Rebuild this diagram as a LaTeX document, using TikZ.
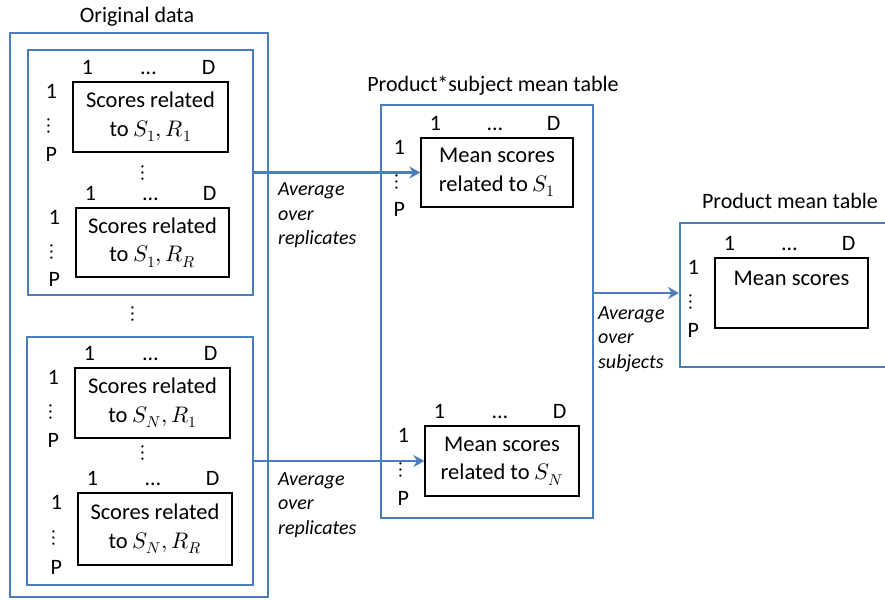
\documentclass[tikz,border=0pt]{standalone}
\usepackage{fontspec}
\usepackage{unicode-math}
\setmainfont{Carlito}
\usetikzlibrary{positioning,arrows.meta,calc}
\definecolor{frameblue}{RGB}{74,126,187}

% column labels above and row labels left of a table
\newcommand{\tabaxes}[1]{%
  \node[axisLbl, anchor=base] (#1-c1) at ($(#1.north west)+(15,-7)$) {1};
  \node[axisLbl, anchor=base] (#1-cdots) at ($(#1.north)+(-2,-7)$) {\ldots};
  \node[axisLbl, anchor=base] (#1-cD) at ($(#1.north east)+(-20,-7)$) {D};
  \node[axisLbl, anchor=base] (#1-r1) at ($(#1.north west)+(-21,17)$) {1};
  \node[dotLbl] (#1-rdots) at ($(#1.west)+(-23,9)$) {$\vdots$};
  \node[axisLbl, anchor=base] (#1-rP) at ($(#1.south west)+(-21,9)$) {P};
}

\begin{document}
\begin{tikzpicture}[x=1pt, y=-1pt,
    frame/.style={draw=frameblue, line width=2pt, inner sep=0pt},
    tabBox/.style={draw=black, line width=1.3pt, inner sep=0pt, align=center, font=\fontsize{22.5}{28.5}\selectfont},
    axisLbl/.style={inner sep=0pt, font=\fontsize{22}{26}\selectfont},
    dotLbl/.style={inner sep=0pt, font=\fontsize{22}{22}\selectfont\boldmath},
    titleText/.style={inner sep=0pt, font=\fontsize{22}{26}\selectfont},
    noteText/.style={inner sep=0pt, align=left, font=\fontsize{20}{24.5}\selectfont\itshape},
    arrow/.style={-{Stealth[length=11pt,width=12pt]}, line width=2.2pt, draw=frameblue}
]
\useasboundingbox (0,0) rectangle (885,600);

% original data
\node[frame, minimum width=258, minimum height=564] (orig) at (139,315) {};
\node[titleText, above=6pt of orig, xshift=-2pt] (origTitle) {Original data};
\node[frame, minimum width=225, minimum height=245] (grpA) at (140.5,172.5) {};
\node[frame, minimum width=226, minimum height=248] (grpB) at (140,461) {};
\node[dotLbl] (gapOrig) at (133,314) {$\vdots$};

\node[tabBox, minimum width=155, minimum height=70] (tabA1) at (150.5,117) {Scores related\\to $S_1, R_1$};
\node[tabBox, minimum width=153, minimum height=69] (tabA2) at (152.5,242.5) {Scores related\\to $S_1, R_R$};
\node[dotLbl] (gapA) at (143,173) {$\vdots$};
\node[tabBox, minimum width=155, minimum height=70] (tabB1) at (152.5,403) {Scores related\\to $S_N, R_1$};
\node[tabBox, minimum width=154, minimum height=72] (tabB2) at (155,529) {Scores related\\to $S_N, R_R$};
\node[dotLbl] (gapB) at (143,453) {$\vdots$};
\tabaxes{tabA1}
\tabaxes{tabA2}
\tabaxes{tabB1}
\tabaxes{tabB2}

% product*subject means
\node[frame, minimum width=212, minimum height=413] (subjTab) at (487,311.5) {};
\node[titleText, above=9pt of subjTab, xshift=6pt] (subjTitle) {Product*subject mean table};
\node[tabBox, minimum width=152, minimum height=69] (meanS1) at (497,172.5) {Mean scores\\related to $S_1$};
\node[tabBox, minimum width=154, minimum height=70] (meanSN) at (502,461) {Mean scores\\related to $S_N$};
\tabaxes{meanS1}
\tabaxes{meanSN}

% product means
\node[frame, minimum width=220, minimum height=144] (prodTab) at (790,295) {};
\node[titleText, above=13pt of prodTab] (prodTitle) {Product mean table};
\node[tabBox, minimum width=153, minimum height=70] (meanAll) at (791.5,293) {Mean scores\\\mbox{}};
\tabaxes{meanAll}

\draw[arrow] (grpA.east) -- (meanS1.west);
\draw[arrow] (grpB.east) -- (meanSN.west);
\draw[arrow] (subjTab.east |- meanAll.west) -- (prodTab.west |- meanAll.west);
\node[noteText, below right=10pt and 24pt of grpA.east] (noteA) {Average\\over\\replicates};
\node[noteText, below right=11pt and 24pt of grpB.east] (noteB) {Average\\over\\replicates};
\node[noteText, below right=13pt and 4pt of subjTab.east |- meanAll.west] (noteC) {Average\\over\\subjects};
\end{tikzpicture}
\end{document}
